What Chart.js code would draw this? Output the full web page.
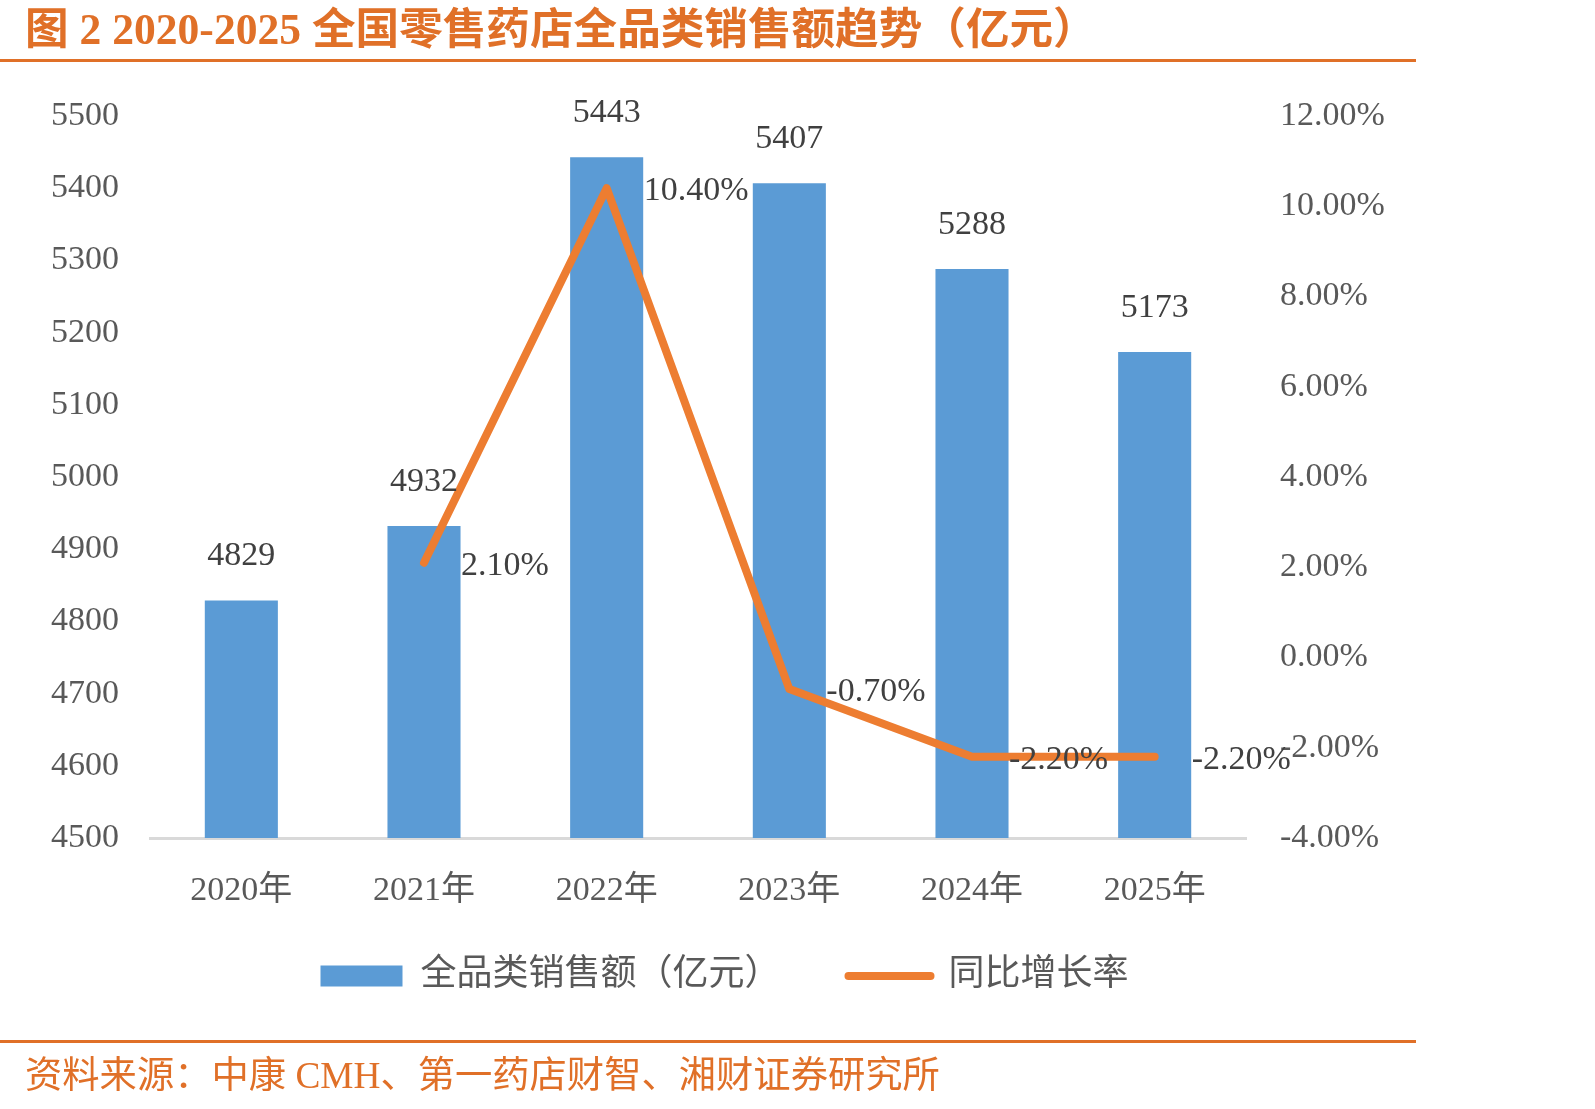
<!DOCTYPE html>
<html><head><meta charset="utf-8">
<script src="https://cdn.jsdelivr.net/npm/chart.js@4.4.0/dist/chart.umd.min.js"></script>
<style>
html,body{margin:0;padding:0;background:#fff;}
#wrap{position:relative;width:1595px;height:1109px;overflow:hidden;background:#fff;}
#title{position:absolute;left:25px;top:6px;font:bold 43.6px "Liberation Serif","Noto Sans CJK SC",serif;color:#E07028;white-space:nowrap;line-height:46px;}
.rule{position:absolute;left:0;width:1416px;height:3px;background:#E07028;}
#source{position:absolute;left:25px;top:1056px;font:37.3px "Liberation Serif","Noto Sans CJK SC",serif;color:#E07028;white-space:nowrap;line-height:40px;}
canvas{position:absolute;left:0;top:0;}
</style></head><body>
<div id="wrap">
<canvas id="c" width="1595" height="1109"></canvas>
<div id="title">图 2 2020-2025 全国零售药店全品类销售额趋势（亿元）</div>
<div class="rule" style="top:59px"></div>
<div class="rule" style="top:1040px"></div>
<div id="source">资料来源：中康 CMH、第一药店财智、湘财证券研究所</div>
</div>
<script>
const categories = ['2020年','2021年','2022年','2023年','2024年','2025年'];
const salesValues = [4829, 4932, 5443, 5407, 5288, 5173];
const growthValues = [null, 2.1, 10.4, -0.7, -2.2, -2.2];
const salesLabel = '全品类销售额（亿元）';
const growthLabel = '同比增长率';
const leftAxisRange = [4500, 5500, 100];
const rightAxisRange = [-4, 12, 2];

const FAMILY = '"Liberation Serif", "Noto Sans CJK SC", serif';
const BLUE = '#5B9BD5';
const ORANGE = '#ED7D31';

const labelPlugin = {
  id: 'valueLabels',
  afterDatasetsDraw(chart) {
    const ctx = chart.ctx;
    ctx.save();
    ctx.font = '34px ' + FAMILY;
    ctx.fillStyle = '#404040';
    ctx.textAlign = 'center';
    ctx.textBaseline = 'middle';
    chart.getDatasetMeta(0).data.forEach((el, i) => {
      ctx.fillText(String(salesValues[i]), el.x, el.y - 44);
    });
    ctx.textAlign = 'left';
    chart.getDatasetMeta(1).data.forEach((el, i) => {
      if (growthValues[i] == null) return;
      ctx.fillText(growthValues[i].toFixed(2) + '%', el.x + 37, el.y + 3);
    });
    ctx.restore();
  }
};

const legendShift = {
  id: 'legendShift',
  afterLayout(chart) {
    const lg = chart.legend;
    if (lg) { lg.left -= 73; lg.right -= 73; lg.top -= 28; lg.bottom -= 28; }
  }
};

new Chart(document.getElementById('c'), {
  data: {
    labels: categories,
    datasets: [
      { type: 'bar', label: salesLabel, data: salesValues, backgroundColor: BLUE,
        yAxisID: 'y', order: 2, barPercentage: 0.4, categoryPercentage: 1 },
      { type: 'line', label: growthLabel, data: growthValues, borderColor: ORANGE,
        backgroundColor: ORANGE, borderWidth: 8, borderCapStyle: 'round', borderJoinStyle: 'round',
        pointRadius: 0, pointHoverRadius: 0, tension: 0, spanGaps: false, yAxisID: 'y1', order: 1 }
    ]
  },
  options: {
    responsive: false,
    animation: false,
    layout: { padding: { top: 116, left: 0, right: 0, bottom: 77 } },
    plugins: {
      tooltip: { enabled: false },
      legend: {
        position: 'bottom',
        align: 'center',
        labels: {
          usePointStyle: true,
          pointStyleWidth: 82,
          boxHeight: 21,
          padding: 68,
          color: '#595959',
          font: { size: 36, family: FAMILY },
          generateLabels() {
            return [
              { text: salesLabel, fillStyle: BLUE, strokeStyle: BLUE, lineWidth: 0, pointStyle: 'rect', datasetIndex: 0, hidden: false, fontColor: '#595959' },
              { text: growthLabel, fillStyle: ORANGE, strokeStyle: ORANGE, lineWidth: 8, lineCap: 'round', pointStyle: 'line', datasetIndex: 1, hidden: false, fontColor: '#595959' }
            ];
          }
        }
      }
    },
    scales: {
      x: {
        offset: true,
        grid: { display: false, drawTicks: false },
        border: { display: true, color: '#D9D9D9', width: 3 },
        ticks: { color: '#595959', padding: 33, font: { size: 34, family: FAMILY }, maxRotation: 0 },
        afterFit(s) { s.height = 80; }
      },
      y: {
        position: 'left',
        min: leftAxisRange[0], max: leftAxisRange[1],
        grid: { display: false, drawTicks: false },
        border: { display: false },
        ticks: { stepSize: leftAxisRange[2], color: '#595959', padding: 31, font: { size: 34, family: FAMILY },
          callback: v => String(v) },
        afterFit(s) { s.width = 150; }
      },
      y1: {
        position: 'right',
        min: rightAxisRange[0], max: rightAxisRange[1],
        grid: { display: false, drawTicks: false },
        border: { display: false },
        ticks: { stepSize: rightAxisRange[2], color: '#595959', padding: 34, font: { size: 34, family: FAMILY },
          callback: v => v.toFixed(2) + '%' },
        afterFit(s) { s.width = 349; }
      }
    }
  },
  plugins: [labelPlugin, legendShift]
});
</script>
</body></html>
